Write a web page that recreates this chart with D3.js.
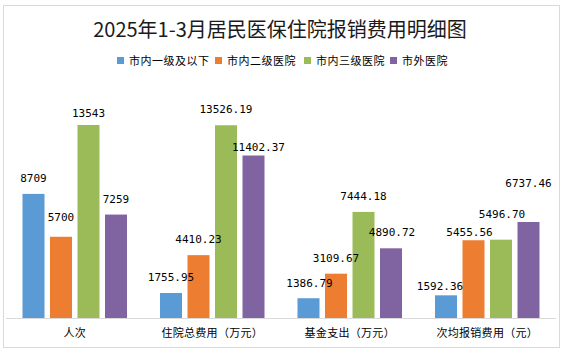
<!DOCTYPE html>
<html>
<head>
<meta charset="utf-8">
<script src="https://cdn.jsdelivr.net/npm/d3@7/dist/d3.min.js"></script>
<style>
  html, body { margin: 0; padding: 0; background: #fff; }
  svg { display: block; }
</style>
</head>
<body>
<svg id="chart" width="566" height="354"></svg>
<script>
const title = "2025年1-3月居民医保住院报销费用明细图";
const categories = ["人次", "住院总费用（万元）", "基金支出（万元）", "次均报销费用（元）"];
const seriesNames = ["市内一级及以下", "市内二级医院", "市内三级医院", "市外医院"];
const colors = ["#5b9bd5", "#ed7d31", "#9bbb59", "#8064a2"];
const level1 = [8709, 1755.95, 1386.79, 1592.36];
const level2 = [5700, 4410.23, 3109.67, 5455.56];
const level3 = [13543, 13526.19, 7444.18, 5496.70];
const outside = [7259, 11402.37, 4890.72, 6737.46];
const labelText = [
  ["8709", "1755.95", "1386.79", "1592.36"],
  ["5700", "4410.23", "3109.67", "5455.56"],
  ["13543", "13526.19", "7444.18", "5496.70"],
  ["7259", "11402.37", "4890.72", "6737.46"]
];
// manual label nudges [dx, dy] (labels dragged in the original)
const labelNudge = [
  [[0,0],[0,0],[1,1],[-6,7]],
  [[0,-4],[0,0],[0,0],[-4,8]],
  [[0,4],[0,0],[0,0],[1,-10]],
  [[0,0],[5,7],[1,0],[0,-23]]
];
const yMax = 16000;

const seriesValues = [level1, level2, level3, outside];
const svg = d3.select("#chart");

// border
svg.append("rect").attr("x", 3.5).attr("y", 5.5).attr("width", 556).attr("height", 342)
  .attr("fill", "#fff").attr("stroke", "#d9d9d9").attr("stroke-width", 1);

// title
svg.append("text").attr("x", 280).attr("y", 37).attr("text-anchor", "middle")
  .attr("font-family", "'Noto Sans CJK SC', sans-serif").attr("font-size", 20)
  .attr("fill", "#1a1a1a").text(title);

// legend
const legendX = [117, 215, 304, 390];
const lg = svg.append("g");
seriesNames.forEach((n, i) => {
  lg.append("rect").attr("x", legendX[i]).attr("y", 57).attr("width", 7).attr("height", 7).attr("fill", colors[i]);
  lg.append("text").attr("x", legendX[i] + 12).attr("y", 65)
    .attr("font-family", "'Noto Sans CJK SC', sans-serif").attr("font-size", 11)
    .attr("letter-spacing", "0.5px").attr("fill", "#000").text(n);
});

const x0 = d3.scaleBand().domain(categories).range([6, 556]).padding(0);
const x1 = d3.scaleBand().domain(d3.range(seriesNames.length)).range([0, x0.bandwidth()])
  .paddingInner(0.2).paddingOuter(0.6);
const y = d3.scaleLinear().domain([0, yMax]).range([318, 90]);

const g = svg.append("g");
seriesValues.forEach((vals, si) => {
  g.selectAll(null).data(vals).enter().append("rect")
    .attr("x", (d, ci) => x0(categories[ci]) + x1(si))
    .attr("y", d => y(d))
    .attr("width", x1.bandwidth())
    .attr("height", d => y(0) - y(d))
    .attr("fill", colors[si]);
});

// axis
const axis = svg.append("g").attr("transform", `translate(0,${y(0)})`)
  .call(d3.axisBottom(x0).tickSize(0).tickPadding(11));
axis.select(".domain").attr("stroke", "#d9d9d9").attr("d", "M6,0.5H556");
axis.selectAll("text").attr("font-family", "'Noto Sans CJK SC', sans-serif")
  .attr("font-size", 11).attr("letter-spacing", "0.3px").attr("fill", "#000");

// labels
seriesValues.forEach((vals, si) => {
  g.selectAll(null).data(vals).enter().append("text")
    .attr("x", (d, ci) => x0(categories[ci]) + x1(si) + x1.bandwidth() / 2 + labelNudge[si][ci][0])
    .attr("y", (d, ci) => y(d) - 12 + labelNudge[si][ci][1])
    .attr("text-anchor", "middle")
    .attr("font-family", "'DejaVu Sans Mono', monospace").attr("font-size", 11)
    .attr("fill", "#000")
    .text((d, ci) => labelText[si][ci]);
});
</script>
</body>
</html>
